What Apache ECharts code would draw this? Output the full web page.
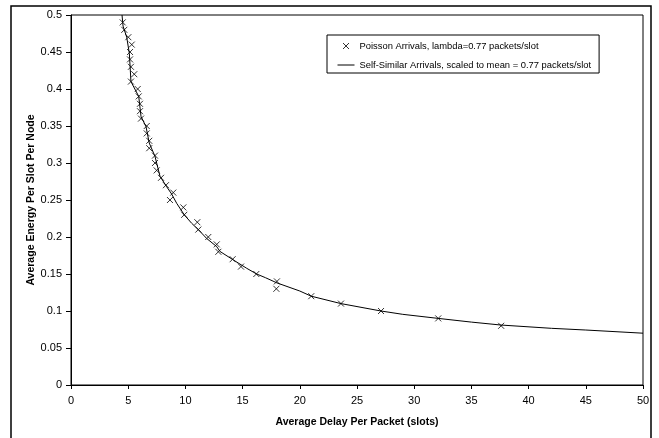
<!DOCTYPE html>
<html>
<head>
<meta charset="utf-8">
<script src="https://cdn.jsdelivr.net/npm/echarts@6/dist/echarts.min.js"></script>
<style>
html,body{margin:0;padding:0;background:#fff;}
#c{width:659px;height:438px;}
</style>
</head>
<body>
<div id="c"></div>
<script>
// Poisson arrivals (markers)
var poissonDelay = [4.52,4.66,5.01,5.31,5.16,5.16,5.24,5.53,5.24,5.83,5.92,6.03,6.03,6.12,6.62,6.62,6.84,6.84,7.34,7.34,7.49,7.87,8.30,8.94,8.65,9.82,9.90,11.04,11.13,12.0,12.74,12.88,14.13,14.86,16.2,18.0,17.95,21.0,23.6,27.1,32.1,37.6];
var poissonEnergy = [0.49,0.48,0.47,0.46,0.45,0.44,0.43,0.42,0.41,0.40,0.39,0.38,0.37,0.36,0.35,0.34,0.33,0.32,0.31,0.30,0.29,0.28,0.27,0.26,0.25,0.24,0.23,0.22,0.21,0.20,0.19,0.18,0.17,0.16,0.15,0.14,0.13,0.12,0.11,0.10,0.09,0.08];
// Self-similar arrivals (line)
var selfDelay = [4.46,4.55,4.87,5.1,5.24,5.92,6.12,6.56,6.84,7.34,7.78,8.36,8.8,9.24,9.9,10.55,11.13,11.86,12.74,13.02,14.19,15.36,16.23,17.0,18.0,20.0,21.0,23.6,27.1,29.0,32.1,35.0,37.6,42.0,45.0,50.0];
var selfEnergy = [0.5,0.485,0.47,0.448,0.41,0.39,0.363,0.349,0.327,0.309,0.282,0.268,0.258,0.2455,0.23,0.2185,0.21,0.198,0.187,0.1805,0.169,0.1577,0.15,0.145,0.138,0.127,0.12,0.11,0.1,0.0955,0.09,0.085,0.081,0.0766,0.0743,0.07];

var seriesNames = ['Poisson Arrivals, lambda=0.77 packets/slot', 'Self-Similar Arrivals, scaled to mean = 0.77 packets/slot'];
var xTitle = 'Average Delay Per Packet (slots)';
var yTitle = 'Average Energy Per Slot Per Node';

function zip(a, b) { var r = []; for (var i = 0; i < a.length; i++) r.push([a[i], b[i]]); return r; }

var FONT = '"Liberation Sans", Arial, sans-serif';
var chart = echarts.init(document.getElementById('c'), null, {renderer: 'canvas'});
chart.setOption({
  animation: false,
  backgroundColor: '#fff',
  graphic: [{
    type: 'rect', shape: {x: 11, y: 6, width: 640, height: 450},
    style: {fill: 'none', stroke: '#000', lineWidth: 1.5}, silent: true, z: -1
  }],
  grid: {left: 71, right: 16, top: 15, bottom: 53, show: true, borderColor: '#000', borderWidth: 1, backgroundColor: 'transparent'},
  legend: {
    orient: 'vertical', left: 327, top: 35,
    borderColor: '#000', borderWidth: 1, padding: [5, 8, 2, 10],
    itemWidth: 17, itemHeight: 6, itemGap: 7,
    textStyle: {fontFamily: FONT, fontSize: 9.4, color: '#000', lineHeight: 12},
    data: [
      {name: seriesNames[0], itemStyle: {color: 'none', borderColor: '#000', borderWidth: 1}},
      {name: seriesNames[1], itemStyle: {color: 'transparent', borderColor: 'transparent', borderWidth: 0},
       lineStyle: {color: '#000', width: 1}}
    ]
  },
  xAxis: {
    type: 'value', min: 0, max: 50, interval: 5,
    name: xTitle, nameLocation: 'middle', nameGap: 32,
    nameTextStyle: {fontFamily: FONT, fontSize: 10.5, fontWeight: 'bold', color: '#000'},
    axisLine: {show: true, onZero: false, lineStyle: {color: '#000', width: 1}},
    axisTick: {show: true, inside: false, length: 4, lineStyle: {color: '#000'}},
    axisLabel: {fontFamily: FONT, fontSize: 11, color: '#000', margin: 10},
    splitLine: {show: false}
  },
  yAxis: {
    type: 'value', min: 0, max: 0.5, interval: 0.05,
    name: yTitle, nameLocation: 'middle', nameGap: 34, nameRotate: 90, nameMoveOverlap: false,
    nameTextStyle: {fontFamily: FONT, fontSize: 10.5, fontWeight: 'bold', color: '#000'},
    axisLine: {show: true, onZero: false, lineStyle: {color: '#000', width: 1}},
    axisTick: {show: true, inside: false, length: 5, lineStyle: {color: '#000'}},
    axisLabel: {fontFamily: FONT, fontSize: 11, color: '#000', margin: 9},
    splitLine: {show: false}
  },
  series: [
    {
      name: seriesNames[0], type: 'scatter',
      data: zip(poissonDelay, poissonEnergy),
      symbol: 'path://M0,0L10,10M10,0L0,10', symbolSize: 6,
      itemStyle: {color: 'none', borderColor: '#000', borderWidth: 1},
      z: 3
    },
    {
      name: seriesNames[1], type: 'line',
      data: zip(selfDelay, selfEnergy),
      symbol: 'none', showSymbol: false,
      lineStyle: {color: '#000', width: 1},
      itemStyle: {color: '#000'},
      z: 2
    }
  ]
});
</script>
</body>
</html>
